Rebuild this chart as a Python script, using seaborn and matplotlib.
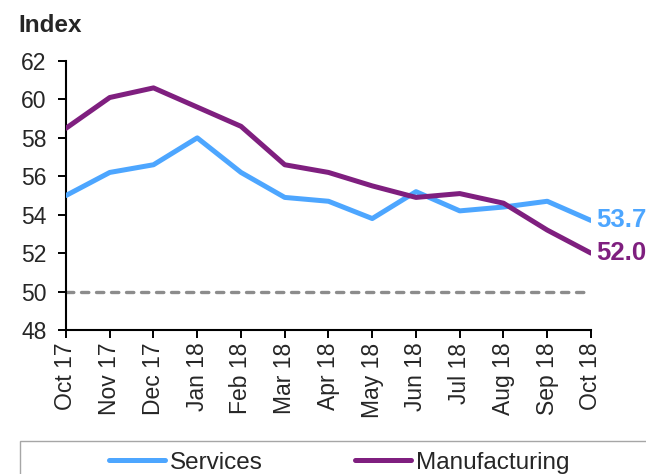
import matplotlib
matplotlib.use("Agg")
import matplotlib.pyplot as plt
from matplotlib.patches import Rectangle
import seaborn as sns
import pandas as pd

months = ["Oct 17", "Nov 17", "Dec 17", "Jan 18", "Feb 18", "Mar 18", "Apr 18",
          "May 18", "Jun 18", "Jul 18", "Aug 18", "Sep 18", "Oct 18"]
services = [55.0, 56.2, 56.6, 58.0, 56.2, 54.9, 54.7, 53.8, 55.2, 54.2, 54.4, 54.7, 53.7]
manufacturing = [58.5, 60.1, 60.6, 59.6, 58.6, 56.6, 56.2, 55.5, 54.9, 55.1, 54.6, 53.2, 52.0]
threshold = 50
y_ticks = [48, 50, 52, 54, 56, 58, 60, 62]

BLUE = "#4da6ff"
PURPLE = "#7f1f7f"

sns.set_style("ticks")
plt.rcParams["font.family"] = ["Liberation Sans", "DejaVu Sans"]

df = pd.DataFrame({
    "pos": list(range(len(months))) * 2,
    "value": services + manufacturing,
    "series": ["Services"] * len(months) + ["Manufacturing"] * len(months),
})

fig = plt.figure(figsize=(6.46, 4.74), dpi=100)
ax = fig.add_axes([66 / 646, 1 - 330 / 474, (591 - 66) / 646, (330 - 61) / 474])

ax.axhline(threshold, color="#8c8c8c", lw=2.4, ls=(0, (2.2, 2.3)),
           dash_capstyle="round", zorder=1)

sns.lineplot(data=df, x="pos", y="value", hue="series",
             palette={"Services": BLUE, "Manufacturing": PURPLE},
             hue_order=["Services", "Manufacturing"],
             lw=3.6, ax=ax, legend=False, zorder=3)

ax.set_xlim(0, len(months) - 1)
ax.set_ylim(48, 62)
ax.set_yticks(y_ticks)
ax.set_yticklabels([str(t) for t in y_ticks], fontsize=16.5)
ax.set_xticks(range(len(months)))
ax.set_xticklabels(months, rotation=90, fontsize=16.5)
ax.tick_params(axis="both", direction="out", length=6, width=1.4, color="black")
ax.tick_params(axis="y", pad=8)
ax.tick_params(axis="x", pad=3)
for side in ("top", "right"):
    ax.spines[side].set_visible(False)
for side in ("left", "bottom"):
    ax.spines[side].set_color("black")
    ax.spines[side].set_linewidth(1.5)
ax.set_xlabel("")
ax.set_ylabel("")
ax.grid(False)

last = len(months) - 1
ax.annotate(f"{services[-1]:.1f}", xy=(last, services[-1]), xytext=(4, 0),
            textcoords="offset points", va="center", ha="left",
            color=BLUE, fontsize=18.5, fontweight="bold", annotation_clip=False)
ax.annotate(f"{manufacturing[-1]:.1f}", xy=(last, manufacturing[-1]), xytext=(4, 0),
            textcoords="offset points", va="center", ha="left",
            color=PURPLE, fontsize=18.5, fontweight="bold", annotation_clip=False)

fig.text(18 / 646, 1 - 25 / 474, "Index", fontsize=17.5, fontweight="bold",
         va="center", ha="left")

# legend box running off the bottom/right of the figure
fig.add_artist(Rectangle((20 / 646, -0.05), 0.99, (1 - 441 / 474) + 0.05,
                         transform=fig.transFigure, fill=False,
                         edgecolor="#a6a6a6", lw=1.0))
handles = [plt.Line2D([], [], color=BLUE, lw=3.6),
           plt.Line2D([], [], color=PURPLE, lw=3.6)]
fig.legend(handles, ["Services", "Manufacturing"], loc="center",
           bbox_to_anchor=(339 / 646, 1 - 463 / 474), ncol=2, frameon=False,
           fontsize=17.5, handlelength=2.3, handletextpad=0.2, columnspacing=3.8)

fig.savefig("out.png", dpi=100)
